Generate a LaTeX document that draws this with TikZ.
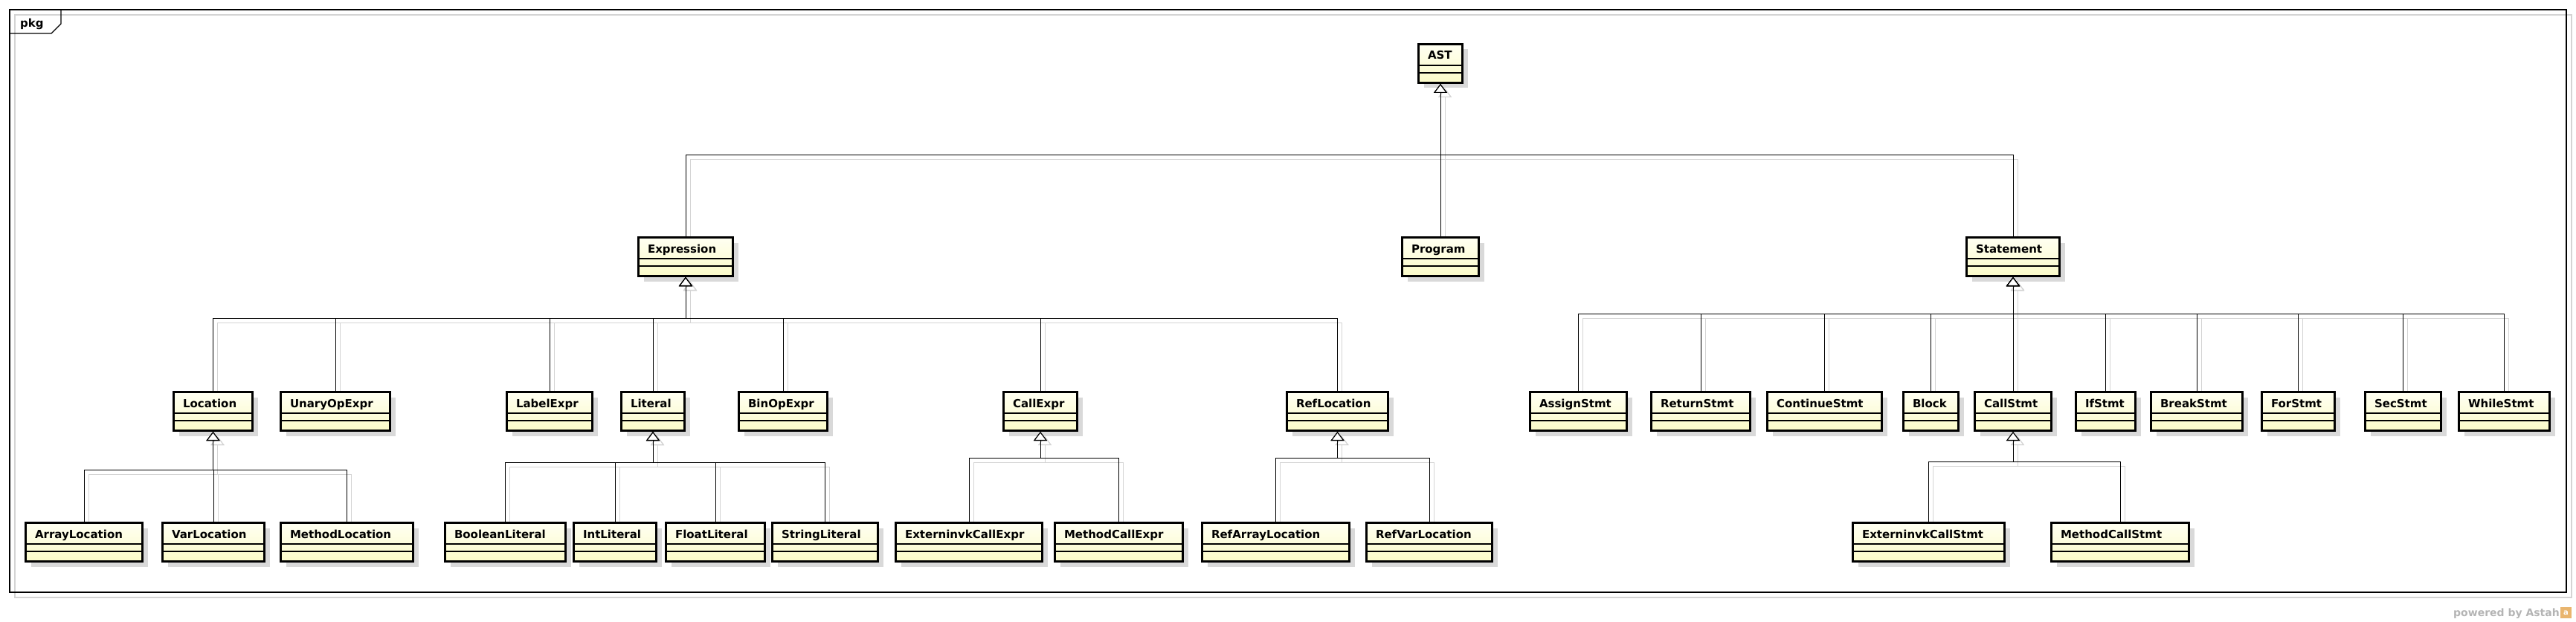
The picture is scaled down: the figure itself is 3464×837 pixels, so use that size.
\documentclass[tikz,border=0pt]{standalone}
\usepackage{fontspec}
\setmainfont{DejaVu Sans}
\usetikzlibrary{arrows.meta,shadows,backgrounds}
\definecolor{clstop}{HTML}{FFFFF2}
\definecolor{clsbot}{HTML}{FBFBC8}
\definecolor{boxshadow}{HTML}{D9D9D9}
\definecolor{lineshadow}{HTML}{D4D4D4}
\definecolor{footgray}{HTML}{B4B4B4}
\definecolor{logoorange}{HTML}{E9B56E}

\begin{document}
\begin{tikzpicture}[x=1pt,y=-1pt,
    cls/.style={draw, line width=3pt, top color=clstop, bottom color=clsbot,
      inner xsep=12.5pt, inner ysep=0pt, text height=20.5pt, text depth=31.5pt,
      align=left, font=\fontsize{15pt}{18pt}\selectfont\bfseries,
      drop shadow={shadow xshift=7pt, shadow yshift=-7pt, fill=boxshadow, opacity=1},
      path picture={
        \draw[line width=1.2pt] ([yshift=-28.5pt]path picture bounding box.north west) -- ([yshift=-28.5pt]path picture bounding box.north east);
        \draw[line width=1.2pt] ([yshift=-38.5pt]path picture bounding box.north west) -- ([yshift=-38.5pt]path picture bounding box.north east);
      }},
    gen/.style={line width=0.9pt, -{Triangle[length=12pt,width=18pt,fill=white,line width=1.1pt]}},
    genshadow/.style={gen, draw=lineshadow, transform canvas={xshift=6pt,yshift=-6pt}}]

  \useasboundingbox (0,0) rectangle (3464,837);

  %--- Rahmen pkg ---
  \begin{scope}[on background layer]
    \draw[lineshadow, line width=1.2pt] (20,20) rectangle (3458,804);
  \end{scope}
  \draw[line width=1.4pt] (13,13) rectangle (3451,797);
  \draw[line width=1.4pt] (13,45) -- (69,45) -- (82,32) -- (82,13);
  \node[anchor=base west, inner sep=0pt, font=\fontsize{15pt}{18pt}\selectfont\bfseries] (pkglabel) at (27,37) {pkg};

  %--- Klassen ---
  \foreach \name/\xa/\xb/\ya in {AST/1906/1968/58,
      Expression/857/987/318, Program/1884/1990/318, Statement/2643/2771/318} {
    \pgfmathsetmacro\tw{\xb-\xa-28}
    \node[cls, text width=\tw pt] (\name) at ({(\xa+\xb)/2},{\ya+27.5}) {\name};
  }
  % zweite Ebene
  \foreach \name/\xa/\xb in {Location/232/341, UnaryOpExpr/376/526, LabelExpr/680/798,
      Literal/834/922, BinOpExpr/992/1114, CallExpr/1348/1450, RefLocation/1729/1868,
      AssignStmt/2056/2189, ReturnStmt/2219/2355, ContinueStmt/2375/2532, Block/2558/2635,
      CallStmt/2654/2760, IfStmt/2790/2873, BreakStmt/2891/3017, ForStmt/3040/3141,
      SecStmt/3179/3284, WhileStmt/3305/3430} {
    \pgfmathsetmacro\tw{\xb-\xa-28}
    \node[cls, text width=\tw pt] (\name) at ({(\xa+\xb)/2},553.5) {\name};
  }
  % dritte Ebene
  \foreach \name/\xa/\xb in {ArrayLocation/33/193, VarLocation/217/357, MethodLocation/376/557,
      BooleanLiteral/597/762, IntLiteral/770/884, FloatLiteral/894/1030, StringLiteral/1037/1182,
      ExterninvkCallExpr/1203/1403, MethodCallExpr/1417/1592,
      RefArrayLocation/1615/1816, RefVarLocation/1836/2008,
      ExterninvkCallStmt/2490/2697, MethodCallStmt/2757/2945} {
    \pgfmathsetmacro\tw{\xb-\xa-28}
    \node[cls, text width=\tw pt] (\name) at ({(\xa+\xb)/2},729.5) {\name};
  }

  %--- Sammelschienen ---
  \coordinate (topbus) at (AST |- 0,208);
  \coordinate (exprbus) at (Expression |- 0,428);
  \coordinate (stmtbus) at (Statement |- 0,422);
  \coordinate (locbus) at (Location |- 0,632);
  \coordinate (litbus) at (Literal |- 0,622);
  \coordinate (callbus) at (CallExpr |- 0,616);
  \coordinate (refbus) at (RefLocation |- 0,616);
  \coordinate (cstmtbus) at (CallStmt |- 0,621);

  %--- Generalisierungen ---
  \foreach \c/\p/\b in {Expression/AST/topbus, Program/AST/topbus, Statement/AST/topbus,
      Location/Expression/exprbus, UnaryOpExpr/Expression/exprbus, LabelExpr/Expression/exprbus,
      Literal/Expression/exprbus, BinOpExpr/Expression/exprbus, CallExpr/Expression/exprbus,
      RefLocation/Expression/exprbus,
      AssignStmt/Statement/stmtbus, ReturnStmt/Statement/stmtbus, ContinueStmt/Statement/stmtbus,
      Block/Statement/stmtbus, CallStmt/Statement/stmtbus, IfStmt/Statement/stmtbus,
      BreakStmt/Statement/stmtbus, ForStmt/Statement/stmtbus, SecStmt/Statement/stmtbus,
      WhileStmt/Statement/stmtbus,
      ArrayLocation/Location/locbus, VarLocation/Location/locbus, MethodLocation/Location/locbus,
      BooleanLiteral/Literal/litbus, IntLiteral/Literal/litbus, FloatLiteral/Literal/litbus,
      StringLiteral/Literal/litbus,
      ExterninvkCallExpr/CallExpr/callbus, MethodCallExpr/CallExpr/callbus,
      RefArrayLocation/RefLocation/refbus, RefVarLocation/RefLocation/refbus,
      ExterninvkCallStmt/CallStmt/cstmtbus, MethodCallStmt/CallStmt/cstmtbus} {
    \begin{scope}[on background layer]
      \draw[genshadow] (\c.north) |- (\b) -- (\p.south);
    \end{scope}
    \draw[gen] (\c.north) |- (\b) -- (\p.south);
  }

  %--- Fusszeile ---
  \node[fill=logoorange, minimum size=15pt, inner sep=0pt, text=white,
    font=\fontsize{10pt}{10pt}\selectfont\bfseries] (astahlogo) at (3450.5,824.5) {a};
  \node[anchor=base east, inner sep=0pt, text=footgray,
    font=\fontsize{14pt}{16pt}\selectfont\bfseries] (powered) at (3442,829) {powered by Astah};

\end{tikzpicture}
\end{document}
